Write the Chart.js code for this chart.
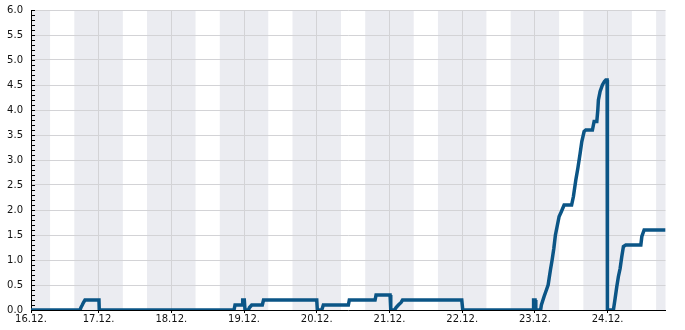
<!DOCTYPE html>
<html><head><meta charset="utf-8">
<script src="https://cdn.jsdelivr.net/npm/chart.js@4/dist/chart.umd.min.js"></script>
<style>html,body{margin:0;padding:0;background:#fff}canvas{display:block}</style>
</head><body>
<canvas id="c" width="685" height="330"></canvas>
<script>
// hours since 16.12. 00:00
const xMin = 1.7, xMax = 211.1;
const dayLabels = ['16.12.','17.12.','18.12.','19.12.','20.12.','21.12.','22.12.','23.12.','24.12.'];
const dayHours = [1.7,24,48,72,96,120,144,168,192];
const yTicks = [0,0.5,1,1.5,2,2.5,3,3.5,4,4.5,5,5.5,6];
const nightStartHour = 16, nightEndHour = 8;
const hours = [1.7,17.86,18.19,18.62,19.01,19.51,24.13,24.23,
 68.7,69.03,71.34,71.57,72.1,72.33,73.48,73.81,74.54,78.04,78.44,96.0,96.2,97.65,98.18,
 106.43,106.76,115.25,115.58,120.2,120.43,121.68,122.18,122.94,123.83,124.32,143.86,144.19,
 167.4,167.57,168.06,168.3,169.88,170.14,171.03,171.79,172.36,172.69,173.12,173.68,174.24,174.77,
 175.43,175.99,176.75,177.64,180.11,180.71,181.5,182.16,182.92,183.48,184.24,184.8,186.98,187.54,
 188.43,188.76,188.96,189.52,190.28,190.94,191.4,191.83,191.93,193.91,194.47,195.03,195.56,196.12,
 196.68,197.21,198.0,202.96,203.29,204.05,211.14];
const values = [0,0,0.05,0.1,0.15,0.2,0.2,0,
 0,0.1,0.1,0.2,0.2,0,0,0.05,0.1,0.1,0.2,0.2,0,0,0.1,
 0.1,0.2,0.2,0.3,0.3,0,0,0.05,0.1,0.15,0.2,0.2,0,
 0,0.2,0.2,0,0,0.1,0.27,0.4,0.5,0.63,0.8,1.0,1.23,1.5,
 1.7,1.87,1.97,2.1,2.1,2.27,2.6,2.83,3.13,3.37,3.57,3.6,3.6,3.77,
 3.77,4.0,4.2,4.37,4.5,4.57,4.6,4.6,0,0,0.23,0.47,0.67,0.83,
 1.07,1.27,1.3,1.3,1.47,1.6,1.6];

const bandPlugin = {
  id:'bands',
  beforeDraw(chart){
    const {ctx, chartArea:a, scales:{x}} = chart;
    ctx.save();
    ctx.beginPath(); ctx.rect(a.left,a.top,a.right-a.left,a.bottom-a.top); ctx.clip();
    ctx.fillStyle = '#ebecf1';
    for(let d=0; d<=10; d++){
      const s = x.getPixelForValue(d*24 - 24 + nightStartHour);
      const e = x.getPixelForValue(d*24 + nightEndHour);
      ctx.fillRect(s, a.top, e-s, a.bottom-a.top);
    }
    ctx.restore();
  },
  afterDraw(chart){
    const {ctx, chartArea:a, scales:{y}} = chart;
    ctx.save();
    ctx.strokeStyle = '#000'; ctx.lineWidth = 1;
    for(let i=0;i<=60;i++){
      const py = Math.round(y.getPixelForValue(i/10)) + 0.5;
      ctx.beginPath(); ctx.moveTo(a.left, py); ctx.lineTo(a.left+4, py); ctx.stroke();
    }
    ctx.restore();
  }
};

new Chart(document.getElementById('c'), {
  type:'line',
  data:{datasets:[{
    data: hours.map((h,i)=>({x:h,y:values[i]})),
    borderColor:'#0b5586', borderWidth:3.5, pointRadius:0, tension:0, fill:false,
    borderJoinStyle:'miter'
  }]},
  options:{
    responsive:false, animation:false,
    layout:{padding:{left:0,top:10,right:19.5,bottom:0}},
    plugins:{legend:{display:false}, tooltip:{enabled:false}},
    scales:{
      x:{type:'linear', min:xMin, max:xMax,
        afterBuildTicks(s){ s.ticks = dayHours.map(v=>({value:v})); },
        afterFit(s){ s.height = 20; s.paddingLeft = 0; s.paddingRight = 0; },
        ticks:{autoSkip:false, maxRotation:0, padding:0, color:'#111',
          font:{family:'DejaVu Sans', size:10},
          callback(v){ const i = dayHours.indexOf(v); return i>=0 ? dayLabels[i] : ''; }},
        grid:{color:'#d3d3d6', tickColor:'#000', tickLength:3, lineWidth:1},
        border:{color:'#000', width:1}
      },
      y:{min:0, max:6,
        afterBuildTicks(s){ s.ticks = yTicks.map(v=>({value:v})); },
        afterFit(s){ s.width = 31; s.paddingTop = 0; s.paddingBottom = 0; },
        ticks:{padding:8, color:'#111', font:{family:'DejaVu Sans', size:10},
          callback(v){ return Number(v).toFixed(1); }},
        grid:{color:'#d3d3d6', drawTicks:false, lineWidth:1},
        border:{color:'#000', width:1}
      }
    }
  },
  plugins:[bandPlugin]
});
</script>
</body></html>
